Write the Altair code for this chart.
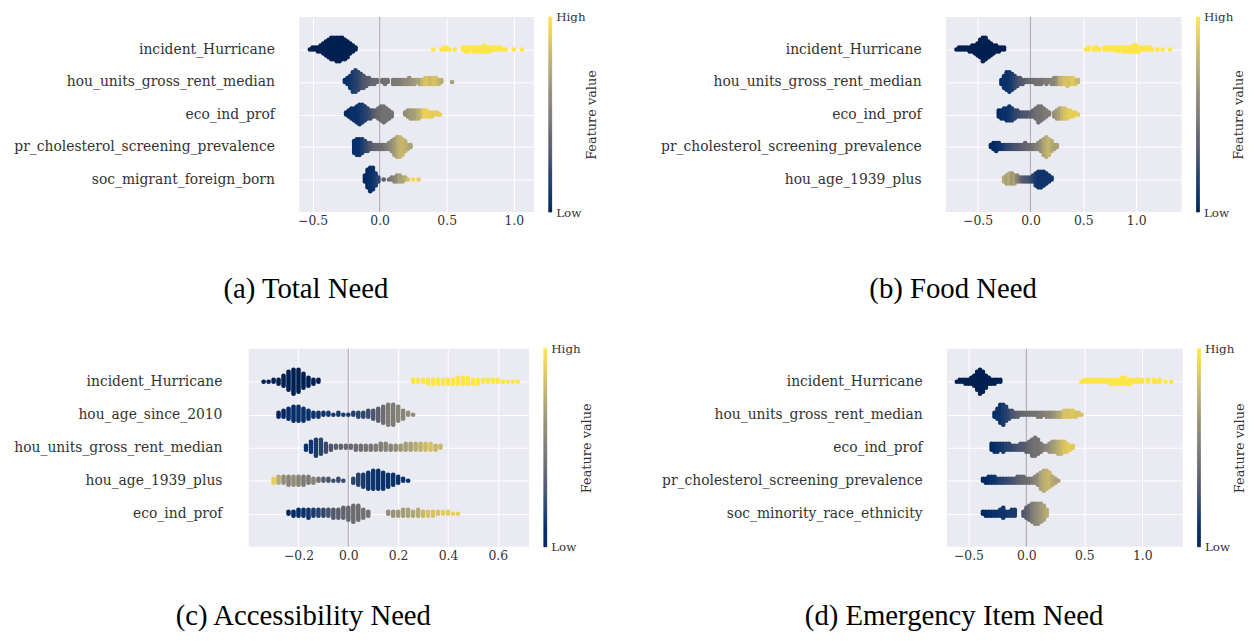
import altair as alt
import pandas as pd

LABEL_FONT = "DejaVu Serif"
TITLE_FONT = "Liberation Serif"

# ---------------- (a) Total Need ----------------
A_NAMES = ["incident_Hurricane", "hou_units_gross_rent_median", "eco_ind_prof",
           "pr_cholesterol_screening_prevalence", "soc_migrant_foreign_born"]
A_TICKS = [-0.5, 0.0, 0.5, 1.0]
# bins: (shap value, number of points, feature value 0..1)
A_F1 = [(-0.52, 1, 0), (-0.50, 2, 0), (-0.48, 2, 0), (-0.46, 3, 0), (-0.44, 4, 0), (-0.42, 6, 0),
        (-0.40, 8, 0), (-0.38, 10, 0), (-0.36, 12, 0), (-0.34, 12, 0), (-0.32, 13, 0), (-0.30, 13, 0),
        (-0.28, 12, 0), (-0.26, 11, 0), (-0.24, 9, 0), (-0.22, 6, 0), (-0.20, 4, 0), (-0.18, 2, 0),
        (0.40, 1, 1), (0.46, 1, 1), (0.48, 2, 1), (0.50, 2, 1), (0.52, 1, 1), (0.56, 1, 1), (0.62, 2, 1),
        (0.64, 3, 1), (0.66, 3, 1), (0.68, 2, 1), (0.70, 3, 1), (0.72, 3, 1), (0.74, 3, 1), (0.76, 3, 1),
        (0.78, 4, 1), (0.80, 3, 1), (0.82, 3, 1), (0.84, 2, 1), (0.86, 2, 1), (0.88, 2, 1), (0.90, 2, 1),
        (0.92, 1, 1), (0.94, 1, 1), (1.00, 1, 1), (1.06, 1, 1)]
A_F2 = [(-0.26, 2, 0.10), (-0.24, 4, 0.10), (-0.22, 7, 0.12), (-0.20, 11, 0.15), (-0.18, 12, 0.18),
        (-0.16, 10, 0.20), (-0.14, 8, 0.25), (-0.12, 7, 0.30), (-0.10, 5, 0.32), (-0.08, 4, 0.35),
        (-0.06, 3, 0.38), (-0.04, 3, 0.40), (-0.02, 2, 0.42), (0.02, 2, 0.42), (0.04, 3, 0.45),
        (0.06, 2, 0.45), (0.10, 3, 0.48), (0.12, 3, 0.50), (0.14, 3, 0.50), (0.16, 3, 0.52),
        (0.18, 3, 0.55), (0.20, 3, 0.60), (0.22, 4, 0.60), (0.24, 3, 0.62), (0.26, 3, 0.65),
        (0.28, 2, 0.70), (0.30, 3, 0.70), (0.32, 3, 0.80), (0.34, 4, 0.85), (0.36, 4, 0.85),
        (0.38, 4, 0.80), (0.40, 4, 0.85), (0.42, 4, 0.85), (0.44, 3, 0.80), (0.46, 2, 0.75),
        (0.54, 1, 0.70)]
A_F3 = [(-0.25, 2, 0.05), (-0.23, 4, 0.05), (-0.21, 6, 0.08), (-0.19, 7, 0.10), (-0.17, 9, 0.10),
        (-0.15, 11, 0.12), (-0.13, 10, 0.15), (-0.11, 8, 0.18), (-0.09, 6, 0.20), (-0.07, 5, 0.25),
        (-0.05, 4, 0.30), (-0.03, 4, 0.35), (-0.01, 6, 0.40), (0.01, 8, 0.42), (0.03, 9, 0.45),
        (0.05, 7, 0.45), (0.07, 5, 0.45), (0.09, 3, 0.45), (0.19, 2, 0.60), (0.21, 4, 0.62),
        (0.23, 5, 0.65), (0.25, 5, 0.68), (0.27, 5, 0.70), (0.29, 5, 0.75), (0.31, 4, 0.80),
        (0.33, 4, 0.90), (0.35, 4, 0.92), (0.37, 3, 0.90), (0.39, 3, 0.90), (0.41, 2, 0.90),
        (0.43, 2, 0.90), (0.45, 1, 0.90)]
A_F4 = [(-0.19, 7, 0.08), (-0.17, 9, 0.10), (-0.15, 9, 0.10), (-0.13, 8, 0.15), (-0.11, 6, 0.20),
        (-0.09, 5, 0.25), (-0.07, 4, 0.30), (-0.05, 3, 0.35), (-0.03, 3, 0.38), (-0.01, 3, 0.40),
        (0.01, 3, 0.42), (0.03, 3, 0.45), (0.05, 3, 0.50), (0.07, 4, 0.55), (0.09, 6, 0.60),
        (0.11, 9, 0.65), (0.13, 11, 0.72), (0.15, 11, 0.78), (0.17, 9, 0.80), (0.19, 6, 0.78),
        (0.21, 3, 0.75), (0.23, 2, 0.70)]
A_F5 = [(-0.11, 4, 0.05), (-0.09, 10, 0.05), (-0.07, 13, 0.08), (-0.05, 12, 0.10), (-0.03, 7, 0.15),
        (-0.01, 3, 0.20), (0.03, 1, 0.35), (0.07, 1, 0.45), (0.09, 2, 0.50), (0.11, 3, 0.55),
        (0.13, 4, 0.60), (0.15, 4, 0.70), (0.17, 3, 0.70), (0.19, 2, 0.75), (0.21, 1, 0.85),
        (0.25, 1, 0.95), (0.29, 1, 0.90)]

# ---------------- (b) Food Need ----------------
B_NAMES = ["incident_Hurricane", "hou_units_gross_rent_median", "eco_ind_prof",
           "pr_cholesterol_screening_prevalence", "hou_age_1939_plus"]
B_TICKS = [-0.5, 0.0, 0.5, 1.0]
B_F1 = [(-0.700, 1, 0), (-0.675, 2, 0), (-0.650, 2, 0), (-0.625, 2, 0), (-0.600, 2, 0), (-0.575, 3, 0),
        (-0.550, 4, 0), (-0.525, 5, 0), (-0.500, 7, 0), (-0.475, 10, 0), (-0.450, 13, 0), (-0.425, 12, 0),
        (-0.400, 9, 0), (-0.375, 7, 0), (-0.350, 5, 0), (-0.325, 4, 0), (-0.300, 3, 0), (-0.275, 2, 0),
        (-0.250, 2, 0),
        (0.525, 1, 1), (0.550, 2, 1), (0.600, 2, 1), (0.625, 2, 1), (0.650, 1, 1), (0.700, 2, 1),
        (0.725, 2, 1), (0.750, 2, 1), (0.775, 2, 1), (0.800, 2, 1), (0.825, 3, 1), (0.850, 2, 1),
        (0.875, 3, 1), (0.900, 3, 1), (0.925, 3, 1), (0.950, 3, 1), (0.975, 4, 1), (1.000, 4, 1),
        (1.025, 3, 1), (1.050, 2, 1), (1.075, 2, 1), (1.100, 2, 1), (1.125, 2, 1), (1.150, 1, 1),
        (1.200, 1, 1), (1.250, 1, 1), (1.320, 1, 1)]
B_F2 = [(-0.275, 3, 0.08), (-0.250, 7, 0.10), (-0.225, 10, 0.10), (-0.200, 11, 0.12), (-0.175, 9, 0.15),
        (-0.150, 7, 0.20), (-0.125, 5, 0.25), (-0.100, 4, 0.30), (-0.075, 3, 0.33), (-0.050, 2, 0.35),
        (-0.025, 2, 0.38), (0.000, 2, 0.40), (0.025, 2, 0.42), (0.050, 3, 0.45), (0.075, 3, 0.45),
        (0.100, 3, 0.45), (0.125, 2, 0.48), (0.150, 3, 0.50), (0.175, 2, 0.50), (0.200, 3, 0.55),
        (0.225, 4, 0.55), (0.250, 4, 0.60), (0.275, 4, 0.75), (0.300, 4, 0.80), (0.325, 4, 0.85),
        (0.350, 5, 0.85), (0.375, 4, 0.85), (0.400, 4, 0.88), (0.425, 3, 0.85), (0.450, 2, 0.80)]
B_F3 = [(-0.300, 4, 0.05), (-0.275, 5, 0.08), (-0.250, 6, 0.10), (-0.225, 7, 0.10), (-0.200, 8, 0.12),
        (-0.175, 7, 0.15), (-0.150, 5, 0.20), (-0.125, 4, 0.22), (-0.100, 3, 0.25), (-0.075, 3, 0.28),
        (-0.050, 3, 0.30), (-0.025, 3, 0.32), (0.000, 3, 0.35), (0.025, 4, 0.38), (0.050, 6, 0.42),
        (0.075, 9, 0.45), (0.100, 8, 0.45), (0.125, 6, 0.48), (0.150, 4, 0.50), (0.175, 2, 0.50),
        (0.225, 3, 0.60), (0.250, 5, 0.65), (0.275, 6, 0.70), (0.300, 6, 0.78), (0.325, 6, 0.85),
        (0.350, 5, 0.88), (0.375, 4, 0.90), (0.400, 3, 0.90), (0.425, 2, 0.90), (0.450, 1, 0.90)]
B_F4 = [(-0.375, 2, 0.05), (-0.350, 4, 0.05), (-0.325, 5, 0.08), (-0.300, 4, 0.10), (-0.275, 3, 0.12),
        (-0.250, 3, 0.15), (-0.225, 3, 0.20), (-0.200, 3, 0.22), (-0.175, 3, 0.25), (-0.150, 3, 0.28),
        (-0.125, 3, 0.30), (-0.100, 3, 0.32), (-0.075, 3, 0.35), (-0.050, 4, 0.38), (-0.025, 3, 0.40),
        (0.000, 3, 0.42), (0.025, 3, 0.45), (0.050, 3, 0.50), (0.075, 4, 0.55), (0.100, 6, 0.60),
        (0.125, 9, 0.70), (0.150, 11, 0.75), (0.175, 9, 0.80), (0.200, 6, 0.75), (0.225, 3, 0.70),
        (0.250, 2, 0.70)]
B_F5 = [(-0.250, 3, 0.75), (-0.225, 5, 0.70), (-0.200, 6, 0.75), (-0.175, 6, 0.65), (-0.150, 5, 0.70),
        (-0.125, 4, 0.55), (-0.100, 3, 0.45), (-0.075, 3, 0.35), (-0.050, 3, 0.30), (-0.025, 3, 0.30),
        (0.000, 3, 0.25), (0.025, 4, 0.20), (0.050, 7, 0.15), (0.075, 9, 0.12), (0.100, 9, 0.12),
        (0.125, 8, 0.12), (0.150, 6, 0.12), (0.175, 4, 0.12), (0.200, 2, 0.12)]

# ---------------- (c) Accessibility Need ----------------
C_NAMES = ["incident_Hurricane", "hou_age_since_2010", "hou_units_gross_rent_median",
           "hou_age_1939_plus", "eco_ind_prof"]
C_TICKS = [-0.2, 0.0, 0.2, 0.4, 0.6]
C_F1 = [(-0.34, 1, 0), (-0.32, 1, 0), (-0.30, 2, 0), (-0.28, 3, 0), (-0.26, 6, 0), (-0.24, 10, 0),
        (-0.22, 13, 0), (-0.20, 12, 0), (-0.18, 8, 0), (-0.16, 5, 0), (-0.14, 3, 0), (-0.12, 2, 0),
        (0.26, 2, 1), (0.28, 2, 1), (0.30, 2, 1), (0.32, 3, 1), (0.34, 3, 1), (0.36, 3, 1), (0.38, 3, 1),
        (0.40, 3, 1), (0.42, 3, 1), (0.44, 4, 1), (0.46, 4, 1), (0.48, 4, 1), (0.50, 3, 1), (0.52, 3, 1),
        (0.54, 2, 1), (0.56, 2, 1), (0.58, 2, 1), (0.60, 2, 1), (0.62, 1, 1), (0.64, 1, 1), (0.66, 1, 1),
        (0.68, 1, 1)]
C_F2 = [(-0.28, 3, 0.05), (-0.26, 4, 0.05), (-0.24, 6, 0.08), (-0.22, 8, 0.08), (-0.20, 8, 0.10),
        (-0.18, 7, 0.10), (-0.16, 5, 0.10), (-0.14, 3, 0.12), (-0.12, 3, 0.12), (-0.10, 2, 0.12),
        (-0.08, 2, 0.15), (-0.06, 1, 0.15), (-0.04, 2, 0.15), (-0.02, 1, 0.15), (0.00, 1, 0.15),
        (0.02, 2, 0.18), (0.04, 3, 0.20), (0.06, 3, 0.22), (0.08, 4, 0.25), (0.10, 5, 0.30),
        (0.12, 7, 0.35), (0.14, 9, 0.42), (0.16, 11, 0.50), (0.18, 11, 0.50), (0.20, 8, 0.55),
        (0.22, 5, 0.55), (0.24, 2, 0.60), (0.26, 1, 0.60)]
C_F3 = [(-0.17, 3, 0.10), (-0.15, 6, 0.12), (-0.13, 9, 0.15), (-0.11, 8, 0.20), (-0.09, 5, 0.25),
        (-0.07, 3, 0.30), (-0.05, 2, 0.35), (-0.03, 2, 0.38), (-0.01, 2, 0.40), (0.01, 2, 0.40),
        (0.03, 3, 0.42), (0.05, 3, 0.43), (0.07, 3, 0.45), (0.09, 3, 0.47), (0.11, 3, 0.50),
        (0.13, 4, 0.52), (0.15, 4, 0.55), (0.17, 3, 0.55), (0.19, 3, 0.60), (0.21, 3, 0.65),
        (0.23, 4, 0.68), (0.25, 4, 0.70), (0.27, 4, 0.75), (0.29, 4, 0.78), (0.31, 4, 0.82),
        (0.33, 4, 0.85), (0.35, 3, 0.80), (0.37, 2, 0.80)]
C_F4 = [(-0.30, 3, 0.90), (-0.28, 4, 0.75), (-0.26, 4, 0.60), (-0.24, 5, 0.55), (-0.22, 5, 0.60),
        (-0.20, 5, 0.55), (-0.18, 5, 0.50), (-0.16, 4, 0.50), (-0.14, 3, 0.55), (-0.12, 2, 0.45),
        (-0.10, 2, 0.35), (-0.08, 2, 0.30), (-0.06, 1, 0.25), (-0.04, 2, 0.25), (-0.02, 1, 0.25),
        (0.02, 3, 0.20), (0.04, 6, 0.18), (0.06, 7, 0.15), (0.08, 9, 0.12), (0.10, 10, 0.12),
        (0.12, 10, 0.10), (0.14, 9, 0.10), (0.16, 7, 0.10), (0.18, 6, 0.10), (0.20, 4, 0.10),
        (0.22, 2, 0.10), (0.24, 1, 0.10)]
C_F5 = [(-0.24, 2, 0.05), (-0.22, 3, 0.05), (-0.20, 4, 0.08), (-0.18, 4, 0.10), (-0.16, 5, 0.12),
        (-0.14, 4, 0.15), (-0.12, 4, 0.18), (-0.10, 4, 0.22), (-0.08, 4, 0.28), (-0.06, 5, 0.32),
        (-0.04, 5, 0.35), (-0.02, 6, 0.38), (0.00, 7, 0.40), (0.02, 9, 0.42), (0.04, 8, 0.42),
        (0.06, 5, 0.45), (0.08, 3, 0.45), (0.16, 2, 0.60), (0.18, 3, 0.62), (0.20, 3, 0.65),
        (0.22, 4, 0.68), (0.24, 4, 0.70), (0.26, 3, 0.72), (0.28, 4, 0.75), (0.30, 3, 0.80),
        (0.32, 3, 0.85), (0.34, 3, 0.85), (0.36, 2, 0.85), (0.38, 2, 0.90), (0.40, 2, 0.90),
        (0.42, 1, 0.90), (0.44, 1, 0.90)]

# ---------------- (d) Emergency Item Need ----------------
D_NAMES = ["incident_Hurricane", "hou_units_gross_rent_median", "eco_ind_prof",
           "pr_cholesterol_screening_prevalence", "soc_minority_race_ethnicity"]
D_TICKS = [-0.5, 0.0, 0.5, 1.0]
D_F1 = [(-0.600, 1, 0), (-0.575, 2, 0), (-0.550, 2, 0), (-0.525, 3, 0), (-0.500, 3, 0), (-0.475, 4, 0),
        (-0.450, 6, 0), (-0.425, 10, 0), (-0.400, 13, 0), (-0.375, 11, 0), (-0.350, 7, 0), (-0.325, 4, 0),
        (-0.300, 3, 0), (-0.275, 3, 0), (-0.250, 2, 0), (-0.225, 2, 0),
        (0.475, 1, 1), (0.500, 2, 1), (0.525, 2, 1), (0.550, 2, 1), (0.575, 2, 1), (0.600, 2, 1),
        (0.625, 2, 1), (0.650, 2, 1), (0.675, 2, 1), (0.700, 2, 1), (0.725, 3, 1), (0.750, 3, 1),
        (0.775, 3, 1), (0.800, 3, 1), (0.825, 4, 1), (0.850, 4, 1), (0.875, 3, 1), (0.900, 3, 1),
        (0.925, 2, 1), (0.950, 2, 1), (0.975, 2, 1), (1.000, 2, 1), (1.050, 2, 1), (1.100, 2, 1),
        (1.125, 1, 1), (1.150, 2, 1), (1.200, 1, 1), (1.250, 1, 1)]
D_F2 = [(-0.275, 3, 0.08), (-0.250, 6, 0.10), (-0.225, 10, 0.10), (-0.200, 11, 0.15), (-0.175, 8, 0.18),
        (-0.150, 5, 0.22), (-0.125, 4, 0.28), (-0.100, 3, 0.32), (-0.075, 3, 0.35), (-0.050, 2, 0.38),
        (-0.025, 2, 0.40), (0.000, 2, 0.42), (0.025, 2, 0.43), (0.050, 2, 0.45), (0.075, 2, 0.45),
        (0.100, 3, 0.47), (0.125, 3, 0.50), (0.150, 2, 0.50), (0.175, 3, 0.55), (0.200, 3, 0.55),
        (0.225, 3, 0.60), (0.250, 3, 0.65), (0.275, 3, 0.70), (0.300, 3, 0.75), (0.325, 4, 0.85),
        (0.350, 4, 0.85), (0.375, 4, 0.85), (0.400, 4, 0.88), (0.425, 3, 0.85), (0.450, 2, 0.85),
        (0.475, 1, 0.85)]
D_F3 = [(-0.300, 4, 0.05), (-0.275, 5, 0.08), (-0.250, 5, 0.10), (-0.225, 4, 0.12), (-0.200, 5, 0.15),
        (-0.175, 4, 0.18), (-0.150, 4, 0.20), (-0.125, 3, 0.22), (-0.100, 3, 0.25), (-0.075, 3, 0.28),
        (-0.050, 4, 0.30), (-0.025, 4, 0.32), (0.000, 5, 0.35), (0.025, 6, 0.40), (0.050, 9, 0.42),
        (0.075, 10, 0.45), (0.100, 8, 0.45), (0.125, 5, 0.48), (0.150, 3, 0.50), (0.175, 3, 0.55),
        (0.200, 5, 0.60), (0.225, 6, 0.65), (0.250, 6, 0.70), (0.275, 7, 0.75), (0.300, 7, 0.80),
        (0.325, 6, 0.85), (0.350, 5, 0.88), (0.375, 3, 0.90), (0.400, 2, 0.88)]
D_F4 = [(-0.375, 2, 0.05), (-0.350, 3, 0.05), (-0.325, 4, 0.08), (-0.300, 4, 0.10), (-0.275, 4, 0.12),
        (-0.250, 3, 0.15), (-0.225, 3, 0.18), (-0.200, 3, 0.20), (-0.175, 3, 0.22), (-0.150, 3, 0.25),
        (-0.125, 3, 0.28), (-0.100, 3, 0.30), (-0.075, 4, 0.35), (-0.050, 4, 0.38), (-0.025, 4, 0.40),
        (0.000, 3, 0.42), (0.025, 3, 0.45), (0.050, 3, 0.50), (0.075, 4, 0.55), (0.100, 6, 0.60),
        (0.125, 9, 0.70), (0.150, 11, 0.75), (0.175, 10, 0.78), (0.200, 8, 0.80), (0.225, 5, 0.75),
        (0.250, 3, 0.72), (0.275, 1, 0.70)]
D_F5 = [(-0.375, 2, 0.05), (-0.350, 3, 0.05), (-0.325, 3, 0.08), (-0.300, 3, 0.08), (-0.275, 3, 0.10),
        (-0.250, 3, 0.10), (-0.225, 4, 0.12), (-0.200, 6, 0.12), (-0.175, 3, 0.12), (-0.150, 3, 0.15),
        (-0.125, 4, 0.15), (-0.100, 4, 0.15), (-0.025, 3, 0.30), (0.000, 6, 0.35), (0.025, 8, 0.40),
        (0.050, 10, 0.50), (0.075, 11, 0.55), (0.100, 11, 0.60), (0.125, 10, 0.65), (0.150, 8, 0.70),
        (0.175, 4, 0.75)]

GRID_BG = "#EAEAF2"
TEXT_COL = "#333333"


def expand(features):
    recs = []
    for rank, bins in enumerate(features):
        for x, n, v in bins:
            for _ in range(n):
                recs.append({"row": 4 - rank, "shap": x, "fv": v})
    return pd.DataFrame(recs)


def panel(features, names, domain, ticks, width, height, label_pad):
    df = expand(features)
    label_expr = "[" + ",".join("'" + n + "'" for n in names[::-1]) + "][datum.value]"
    xscale = alt.Scale(domain=domain, nice=False, zero=False)
    xaxis = alt.Axis(values=ticks, format=".1f", title=None, grid=True, gridColor="white",
                     gridWidth=1, ticks=False, domain=False, labelFont=LABEL_FONT,
                     labelFontSize=12.5, labelColor=TEXT_COL, labelPadding=3, labelFlush=False)
    yaxis = alt.Axis(values=[0, 1, 2, 3, 4], labelExpr=label_expr, title=None, grid=True,
                     gridColor="white", gridWidth=1, ticks=False, domain=False,
                     labelFont=LABEL_FONT, labelFontSize=14, labelColor=TEXT_COL,
                     labelPadding=label_pad, labelLimit=400)
    base = alt.Chart(df)
    zero = base.transform_aggregate(cnt="count()").mark_rule(
        color="#B0B0B0", strokeWidth=1.2
    ).encode(x=alt.X(datum=0, scale=xscale, axis=xaxis))
    pts = base.transform_window(
        rn="row_number()", groupby=["row", "shap"]
    ).transform_calculate(
        yy="datum.row + (datum.rn % 2 == 0 ? 1 : -1) * floor(datum.rn / 2) * 0.06"
    ).mark_circle(size=22, opacity=1).encode(
        x=alt.X("shap:Q", scale=xscale, axis=xaxis),
        y=alt.Y("yy:Q", scale=alt.Scale(domain=[-1, 5], nice=False, zero=False), axis=yaxis),
        color=alt.Color("fv:Q", scale=alt.Scale(scheme="cividis", domain=[0, 1]), legend=None),
    )
    return alt.layer(zero, pts).properties(
        width=width, height=height,
        view=alt.ViewBackground(fill=GRID_BG, stroke=None),
    )


def colorbar(height):
    return alt.Chart(alt.sequence(0, 1, 0.005, as_="t")).transform_calculate(
        t2="datum.t + 0.005"
    ).mark_rect(strokeWidth=0.6).encode(
        y=alt.Y("t:Q", scale=alt.Scale(domain=[0, 1], nice=False, zero=False),
                axis=alt.Axis(orient="right", values=[0, 1],
                              labelExpr="datum.value > 0.5 ? 'High' : 'Low'",
                              ticks=False, domain=False, grid=False, labelFlush=False,
                              labelBaseline="middle", labelFont=LABEL_FONT, labelFontSize=12,
                              labelColor=TEXT_COL, labelPadding=4,
                              title="Feature value", titleAngle=270, titleFont=LABEL_FONT,
                              titleFontSize=13, titleFontWeight="normal", titleColor=TEXT_COL,
                              titlePadding=0, titleBaseline="top")),
        y2="t2:Q",
        color=alt.Color("t:Q", scale=alt.Scale(scheme="cividis", domain=[0, 1]), legend=None),
        stroke=alt.Stroke("t:Q", scale=alt.Scale(scheme="cividis", domain=[0, 1]), legend=None),
    ).properties(width=3, height=height, view=alt.ViewBackground(stroke=None))


def group(features, names, domain, ticks, width, height, title, offset, label_pad=25):
    return alt.hconcat(
        panel(features, names, domain, ticks, width, height, label_pad),
        colorbar(height),
        spacing=14,
        title=alt.TitleParams(title, orient="bottom", anchor="middle", frame="bounds",
                              font=TITLE_FONT, fontSize=29, fontWeight="normal",
                              color="black", offset=offset),
    )


def spacer():
    # an invisible, axis-less cell so both rows start at the left edge
    return alt.Chart(pd.DataFrame({"k": [0]})).mark_text(text="", opacity=0).encode(
        x=alt.value(0), y=alt.value(0)
    ).properties(width=1, height=1, view=alt.ViewBackground(stroke=None))


ga = group([A_F1, A_F2, A_F3, A_F4, A_F5], A_NAMES, [-0.6, 1.15], A_TICKS, 237, 197,
           "(a) Total Need", 48)
gb = group([B_F1, B_F2, B_F3, B_F4, B_F5], B_NAMES, [-0.8, 1.43], B_TICKS, 238, 197,
           "(b) Food Need", 48)
gc = group([C_F1, C_F2, C_F3, C_F4, C_F5], C_NAMES, [-0.4, 0.725], C_TICKS, 283, 200,
           "(c) Accessibility Need", 40, label_pad=27)
gd = group([D_F1, D_F2, D_F3, D_F4, D_F5], D_NAMES, [-0.686, 1.348], D_TICKS, 238, 200,
           "(d) Emergency Item Need", 40)

row1 = alt.hconcat(spacer(), alt.hconcat(ga, gb, spacing=62), spacing=0)
row2 = alt.hconcat(spacer(), alt.hconcat(gc, gd, spacing=68), spacing=0)

chart = alt.vconcat(row1, row2, spacing=39).properties(
    padding={"top": 0, "left": 4, "right": 0, "bottom": 0}
).configure_view(stroke=None).configure(background="white")

chart.save("out.html", embed_options={"renderer": "svg", "actions": False})
